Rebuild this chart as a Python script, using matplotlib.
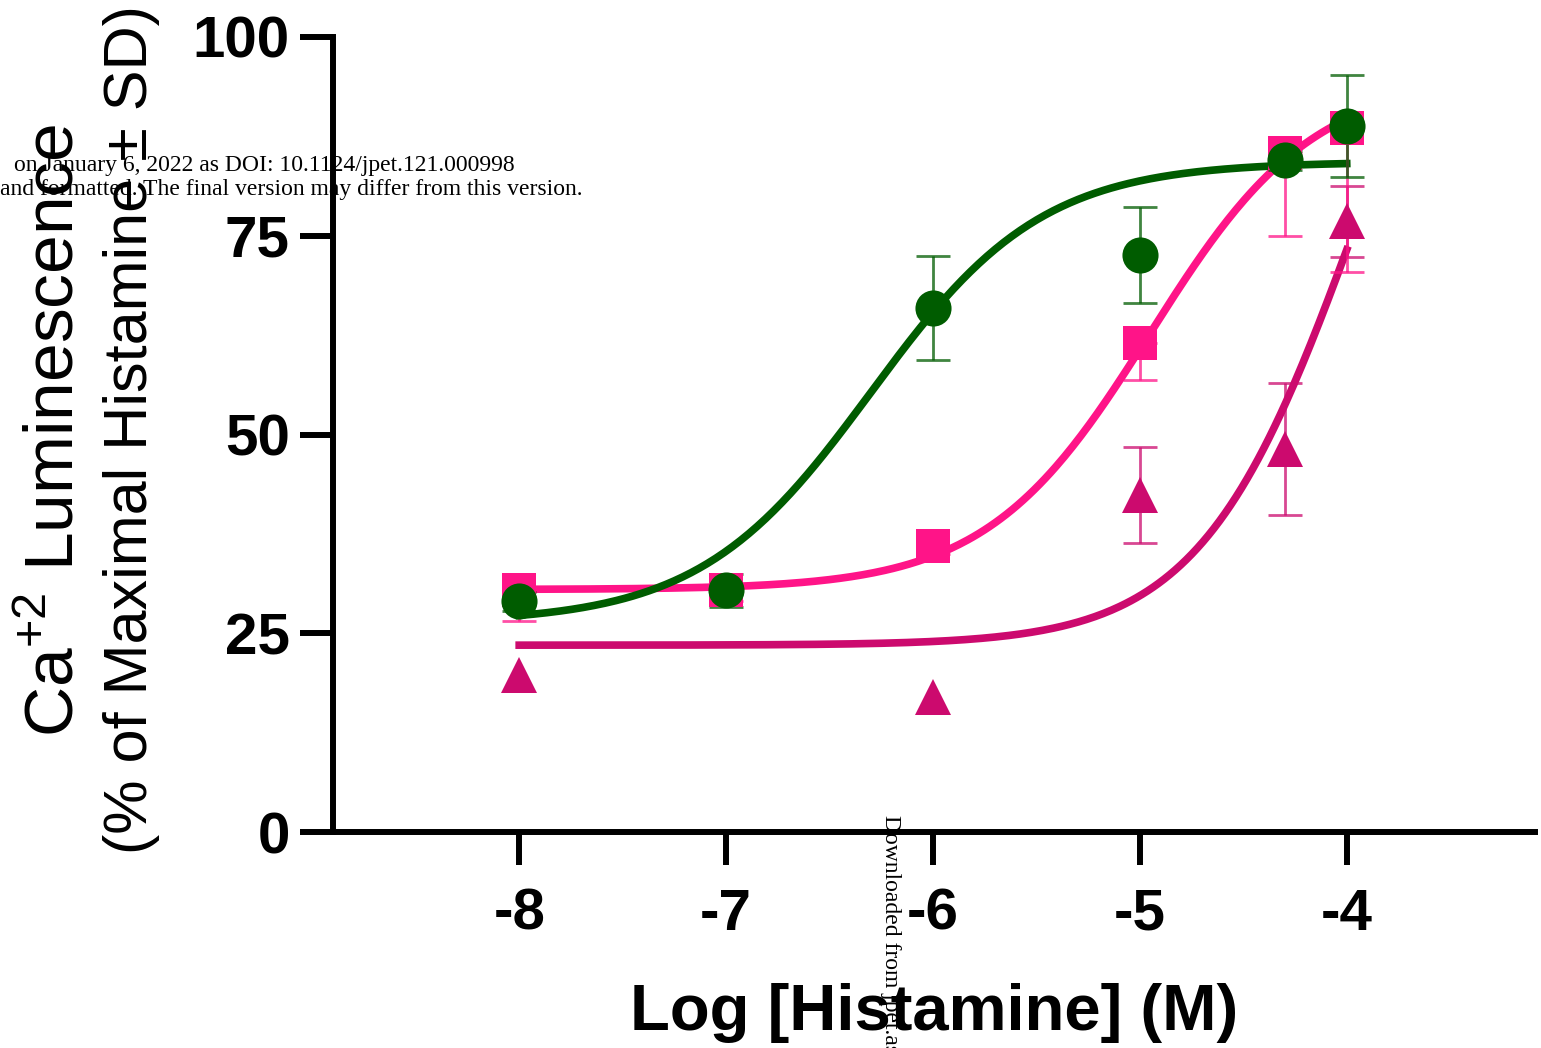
import numpy as np
import matplotlib.pyplot as plt

plt.rcParams['font.family'] = ['Liberation Sans', 'DejaVu Sans']

# data
log_dose = [-8, -7, -6, -5, -4.3, -4]
circle_y = [29.0, 30.4, 65.9, 72.6, 84.5, 88.8]
circle_sd = [1.2, 2.1, 6.5, 6.0, 1.2, 6.4]
square_y = [30.4, 30.5, 36.0, 61.5, 85.4, 88.5]
square_sd = [3.9, 1.5, 1.0, 4.6, 10.4, 18.0]
tri_dose = [-8, -6, -5, -4.3, -4]
tri_y = [19.8, 17.0, 42.4, 48.2, 76.8]
tri_sd = [0.0, 0.0, 6.0, 8.3, 4.5]

# fitted curve parameters (bottom, top, logEC50, hill)
circle_fit = (26.3, 84.3, -6.3, 1.05)
square_fit = (30.5, 95.0, -4.95, 1.1)
tri_fit = (23.5, 130.0, -3.95, 1.15)

green = '#005c00'
pink = '#ff1488'
magenta = '#cc0a6e'


def logistic(x, p):
    bottom, top, ec50, hill = p
    return bottom + (top - bottom) / (1 + 10 ** ((ec50 - x) * hill))


W, H = 1541, 1048
fig = plt.figure(figsize=(W / 100, H / 100), dpi=100)
ax = fig.add_axes([333 / W, 1 - 832 / H, (1535 - 333) / W, (832 - 37) / H])

xs = np.linspace(-8, -4, 300)
ax.plot(xs, logistic(xs, tri_fit), color=magenta, lw=5.5, zorder=2)
ax.plot(xs, logistic(xs, square_fit), color=pink, lw=5.5, zorder=2)
ax.plot(xs, logistic(xs, circle_fit), color=green, lw=5.5, zorder=2)

eb = dict(fmt='none', elinewidth=2, capsize=12, capthick=2, alpha=0.75, zorder=3)
keep = [i for i, s in enumerate(tri_sd) if s > 0]
ax.errorbar([tri_dose[i] for i in keep], [tri_y[i] for i in keep],
            yerr=[tri_sd[i] for i in keep], ecolor=magenta, **eb)
ax.errorbar(log_dose, square_y, yerr=[square_sd, np.zeros(len(square_sd))], ecolor=pink, **eb)
ax.errorbar(log_dose, circle_y, yerr=circle_sd, ecolor=green, **eb)

ax.plot(tri_dose, tri_y, '^', color=magenta, ms=26, mew=0, zorder=4)
ax.plot(log_dose, square_y, 's', color=pink, ms=25, mew=0, zorder=4)
ax.plot(log_dose, circle_y, 'o', color=green, ms=26, mew=0, zorder=5)

ax.set_xlim(-8.9, -3.09)
ax.set_ylim(0, 100)
ax.spines['top'].set_visible(False)
ax.spines['right'].set_visible(False)
for s in ['left', 'bottom']:
    ax.spines[s].set_linewidth(4.3)

xt = [-8, -7, -6, -5, -4]
ax.set_xticks(xt)
ax.set_xticklabels([str(v) for v in xt], fontsize=42, fontweight='bold')
yt = [0, 25, 50, 75, 100]
ax.set_yticks(yt)
ax.set_yticklabels([str(v) for v in yt], fontsize=42, fontweight='bold')
ax.tick_params(axis='both', length=24, width=4.3)
ax.tick_params(axis='x', pad=16)
ax.tick_params(axis='y', pad=7)

ax.set_xlabel('Log [Histamine] (M)', fontsize=47, fontweight='bold', labelpad=30)

fig.text(55 / W, 1 - 430 / H, r'Ca$^{\mathregular{+2}}$ Luminescence', rotation=90,
         ha='center', va='center', fontsize=50)
fig.text(132 / W, 1 - 430 / H, '(% of Maximal Histamine ± SD)', rotation=90,
         ha='center', va='center', fontsize=44)

# watermark text from the source page
wm = dict(family='Liberation Serif', fontsize=17, color='black', zorder=10)
fig.text(515 / W, 1 - 165 / H, 'on January 6, 2022 as DOI: 10.1124/jpet.121.000998',
         ha='right', va='center', **wm)
fig.text(583 / W, 1 - 190 / H, 'and formatted. The final version may differ from this version.',
         ha='right', va='center', **wm)
fig.text(890 / W, 1 - 815 / H, 'Downloaded from jpet.aspetjournals.org', rotation=-90,
         ha='center', va='top', **wm)

plt.savefig('out.png', dpi=100)
